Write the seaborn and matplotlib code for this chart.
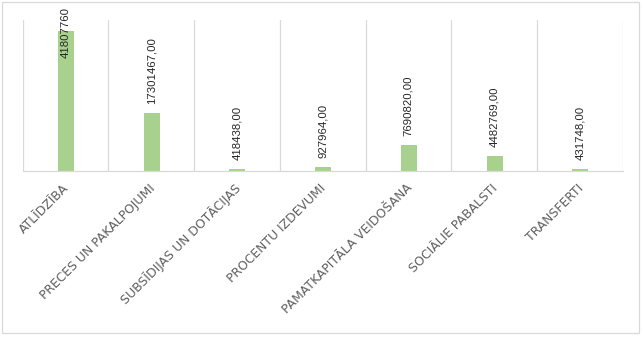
import matplotlib
matplotlib.use("Agg")
import matplotlib.pyplot as plt
import matplotlib.transforms as mtransforms
import seaborn as sns
import pandas as pd
from matplotlib.patches import Rectangle

categories = ["ATLĪDZĪBA", "PRECES UN PAKALPOJUMI", "SUBSĪDIJAS UN DOTĀCIJAS",
              "PROCENTU IZDEVUMI", "PAMATKAPITĀLA VEIDOŠANA", "SOCIĀLIE PABALSTI",
              "TRANSFERTI"]
values = [41807760.00, 17301467.00, 418438.00, 927964.00, 7690820.00, 4482769.00, 431748.00]
value_labels = ["41807760", "17301467,00", "418438,00", "927964,00",
                "7690820,00", "4482769,00", "431748,00"]

df = pd.DataFrame({"cat": categories, "val": values})

sns.set_theme(style="white")
plt.rcParams['font.family'] = ['Liberation Sans', 'DejaVu Sans']

W, H = 643, 337
fig = plt.figure(figsize=(W / 100, H / 100), dpi=100)
ax = fig.add_axes([22.7 / W, (H - 170.5) / H, 600 / W, 151 / H])

sns.barplot(data=df, x="cat", y="val", color="#a9d18e", width=0.175,
            saturation=1, edgecolor="#9fcb83", linewidth=0.6, ax=ax)

ax.set_ylim(0, 45300000)
ax.set_xlim(-0.5, len(categories) - 0.5)
ax.set_xlabel("")
ax.set_ylabel("")
ax.set_yticks([])

# category separator gridlines
for b in [i - 0.5 for i in range(len(categories) + 1)]:
    ax.axvline(b, color="#d9d9d9", lw=0.9, zorder=0)

for s in ["top", "right", "left"]:
    ax.spines[s].set_visible(False)
ax.spines["bottom"].set_color("#d9d9d9")
ax.spines["bottom"].set_linewidth(0.9)

ax.tick_params(axis="x", length=0, pad=8)
ax.set_xticks(range(len(categories)))
ax.set_xticklabels(categories, rotation=45, ha="right", rotation_mode="anchor",
                   fontsize=8.9, color="#5f5f5f", family=["DejaVu Sans"])
shift = mtransforms.ScaledTranslation(-3 / 100, 0, fig.dpi_scale_trans)
for t in ax.get_xticklabels():
    t.set_transform(t.get_transform() + shift)

ymax = ax.get_ylim()[1]
for i, (v, lab) in enumerate(zip(values, value_labels)):
    frac = v / ymax
    if frac > 0.8:
        ax.annotate(lab, xy=(i, 1.0), xycoords=("data", "axes fraction"),
                    xytext=(0, -38), textcoords="offset pixels",
                    rotation=90, ha="center", va="bottom", fontsize=8.2,
                    color="#262626", annotation_clip=False)
    else:
        ax.annotate(lab, xy=(i, v), xytext=(0, 9), textcoords="offset pixels",
                    rotation=90, ha="center", va="bottom", fontsize=8.2,
                    color="#262626")

fig.patches.append(Rectangle((2 / W, 4 / H), 637 / W, 331 / H, transform=fig.transFigure,
                             fill=False, edgecolor="#d9d9d9", lw=0.9))

fig.savefig("out.png", dpi=100)
